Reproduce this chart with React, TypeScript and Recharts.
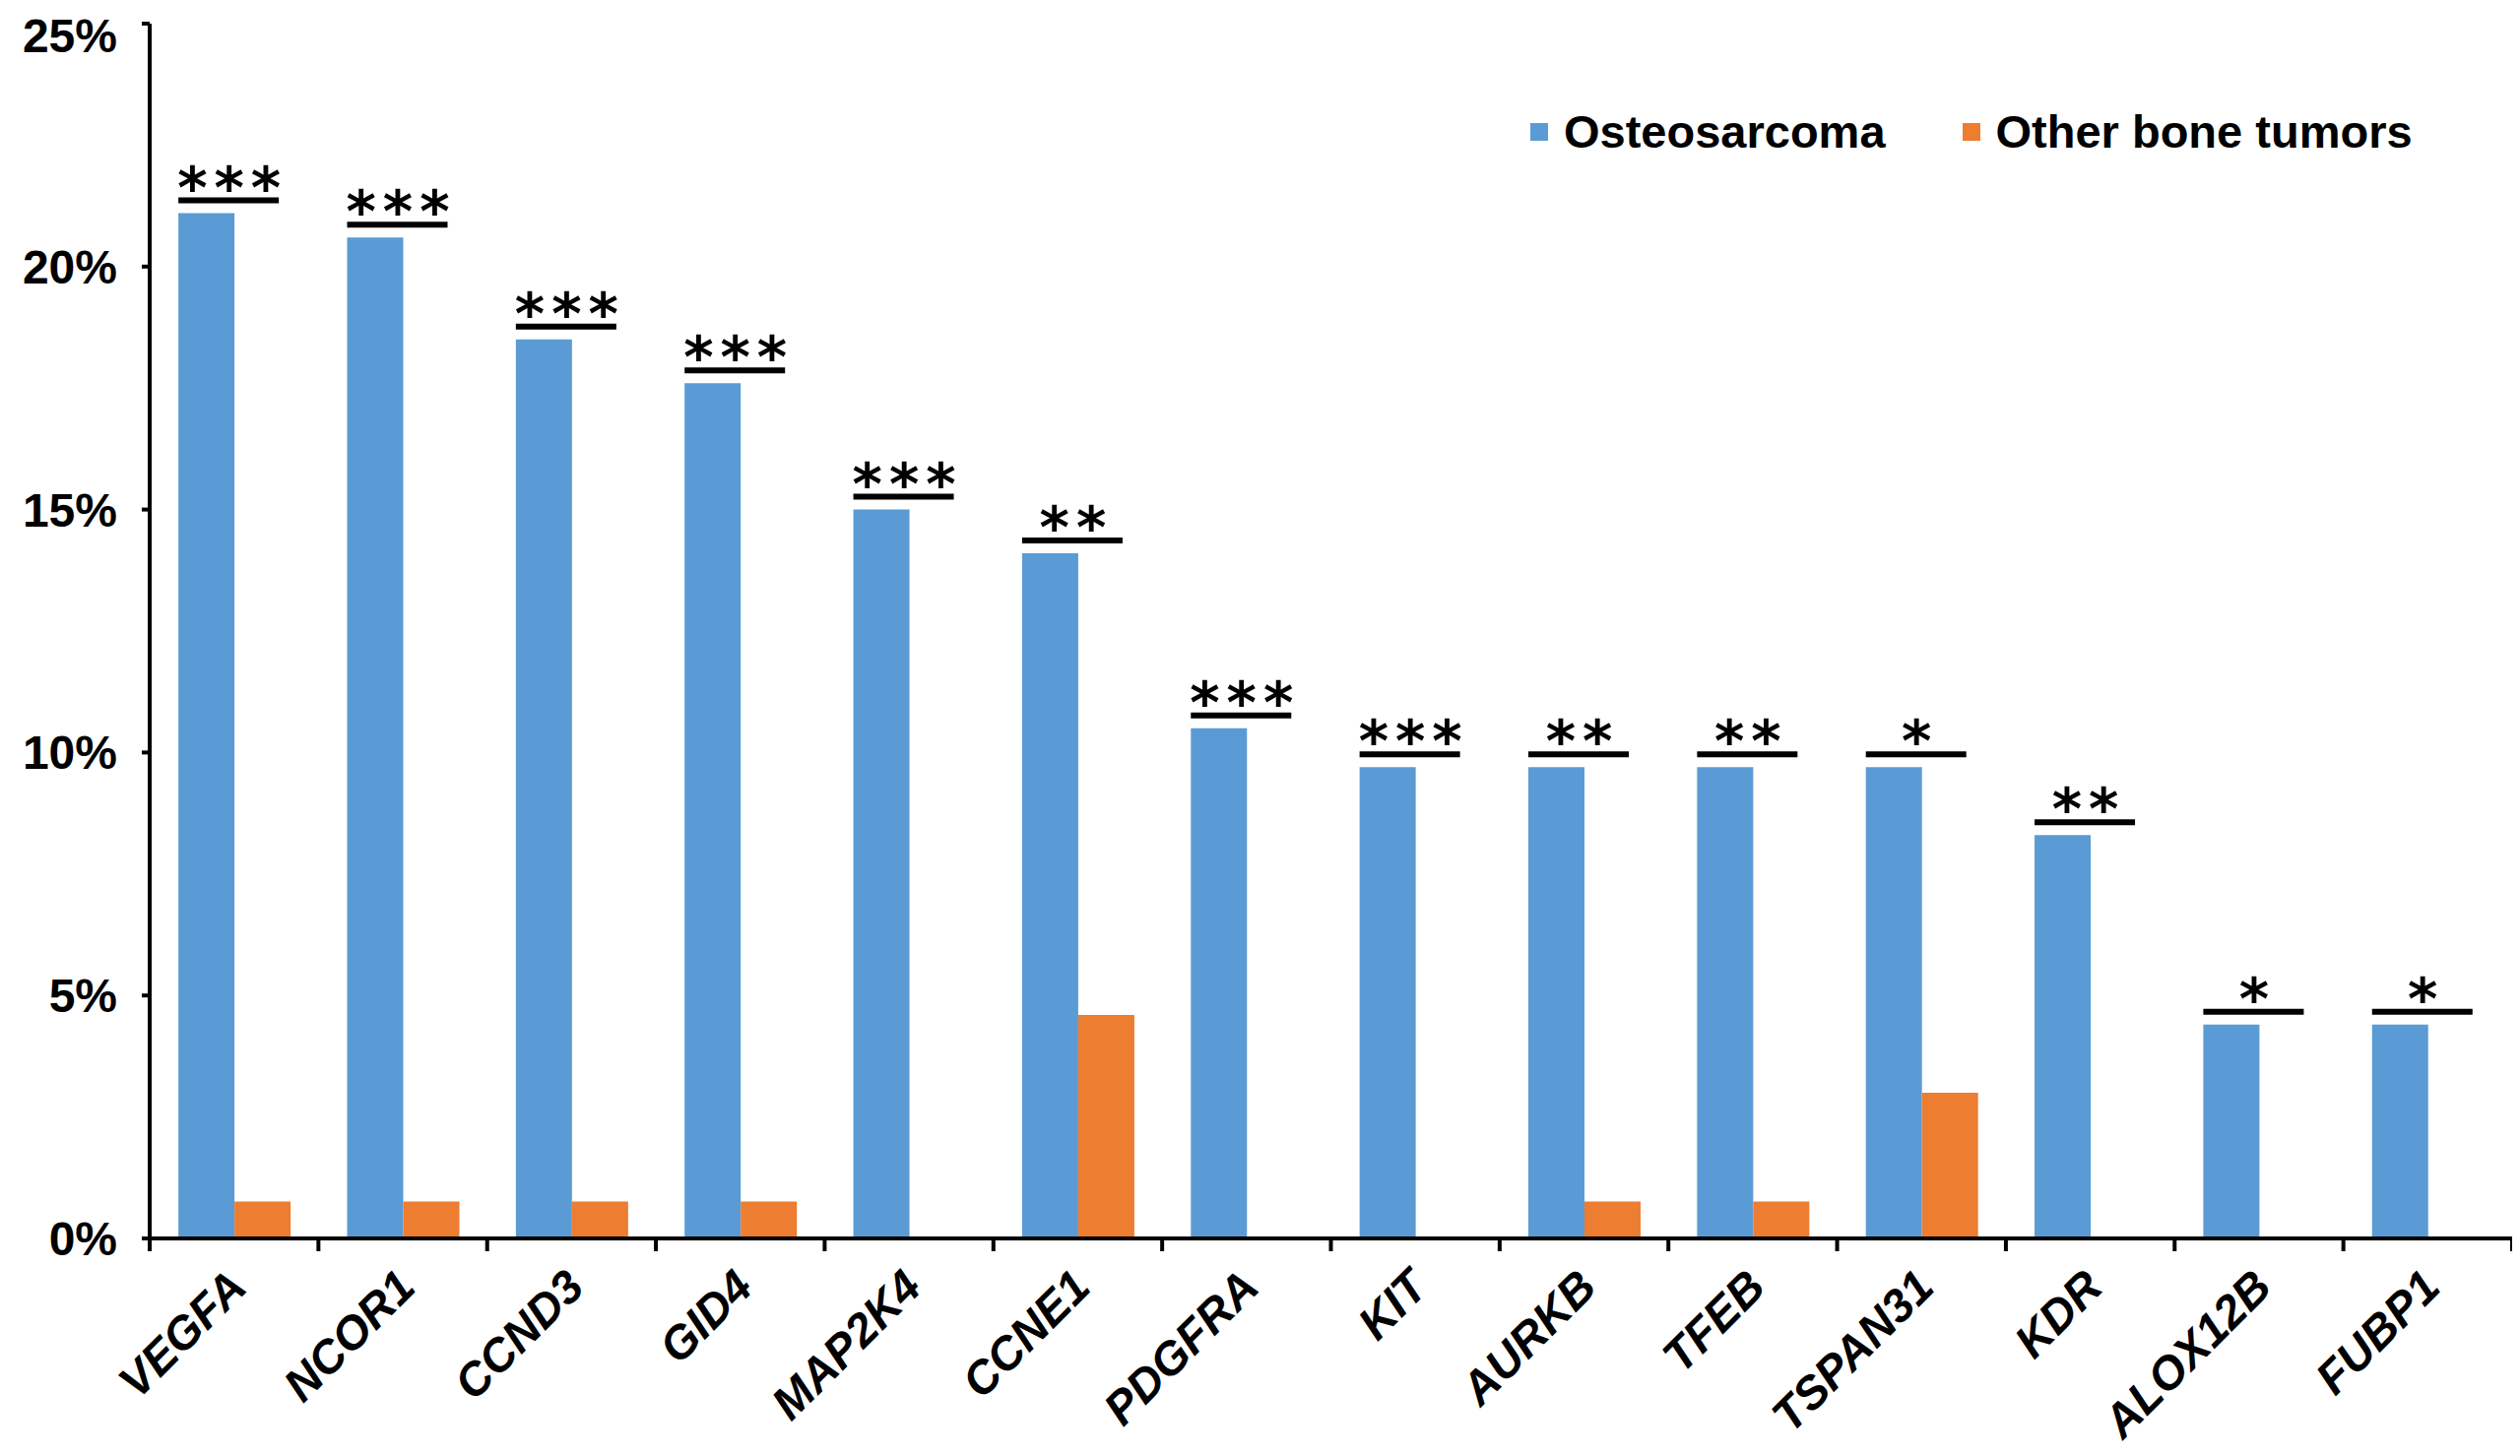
import { Bar, BarChart, LabelList, Legend, XAxis, YAxis } from "recharts";

const GENES = [
  "VEGFA",
  "NCOR1",
  "CCND3",
  "GID4",
  "MAP2K4",
  "CCNE1",
  "PDGFRA",
  "KIT",
  "AURKB",
  "TFEB",
  "TSPAN31",
  "KDR",
  "ALOX12B",
  "FUBP1",
];
const OSTEOSARCOMA = [21.1, 20.6, 18.5, 17.6, 15.0, 14.1, 10.5, 9.7, 9.7, 9.7, 9.7, 8.3, 4.4, 4.4];
const OTHER_BONE = [0.76, 0.76, 0.76, 0.76, 0, 4.6, 0, 0, 0.76, 0.76, 3.0, 0, 0, 0];
const SIGNIFICANCE = ["***", "***", "***", "***", "***", "**", "***", "***", "**", "**", "*", "**", "*", "*"];
const Y_TICKS = [0, 5, 10, 15, 20, 25];

const BLUE = "#5B9BD5";
const ORANGE = "#ED7D31";
const FONT = "'Liberation Sans', Arial, sans-serif";

const W = 2551;
const H = 1471;
const MARGIN = { top: 16, right: 8, left: 0, bottom: 0 };
const Y_AXIS_W = 144;
const X_AXIS_H = 221;
// width of one category band, needed for the between-category tick marks
const BAND = (W - MARGIN.left - MARGIN.right - Y_AXIS_W) / GENES.length;

const data = GENES.map((gene, i) => ({
  gene,
  osteo: OSTEOSARCOMA[i],
  other: OTHER_BONE[i],
  sig: SIGNIFICANCE[i],
}));

function GeneTick({ x, y, payload, index }: any) {
  const left = x - BAND / 2;
  const tx = x + 15;
  const ty = y + 52;
  return (
    <g>
      <line x1={left} y1={y} x2={left} y2={y + 13} stroke="#000" strokeWidth={4} />
      {index === GENES.length - 1 && (
        <line x1={x + BAND / 2} y1={y} x2={x + BAND / 2} y2={y + 13} stroke="#000" strokeWidth={4} />
      )}
      <text
        x={tx}
        y={ty}
        transform={`rotate(-45 ${tx} ${ty})`}
        textAnchor="end"
        fontSize={47}
        fontWeight="bold"
        fontStyle="italic"
        fontFamily={FONT}
        fill="#000"
      >
        {payload.value}
      </text>
    </g>
  );
}

function SigMark({ x, y, width, value }: any) {
  const lineY = y - 13;
  const x1 = x;
  const x2 = x + 2 * width - 12;
  return (
    <g>
      <line x1={x1} y1={lineY} x2={x2} y2={lineY} stroke="#000" strokeWidth={6} />
      <text
        x={(x1 + x2) / 2 + 4}
        y={lineY + 7}
        textAnchor="middle"
        fontSize={58}
        fontWeight="bold"
        letterSpacing={7}
        fontFamily="'DejaVu Sans', sans-serif"
        fill="#000"
      >
        {value}
      </text>
    </g>
  );
}

function LegendBox({ payload }: any) {
  return (
    <div style={{ display: "flex", alignItems: "center", fontFamily: FONT }}>
      {(payload || []).map((p: any, i: number) => (
        <div
          key={i}
          style={{ display: "flex", alignItems: "center", marginRight: i === 0 ? 78 : 0 }}
        >
          <span style={{ width: 18, height: 18, background: p.color, marginRight: 16 }} />
          <span style={{ fontSize: 47, fontWeight: "bold", lineHeight: "47px", color: "#000" }}>
            {p.value}
          </span>
        </div>
      ))}
    </div>
  );
}

export default function App() {
  return (
    <div style={{ width: W, height: H, fontFamily: FONT }}>
      <BarChart width={W} height={H} data={data} margin={MARGIN} barCategoryGap="17%" barGap={0}>
        <XAxis
          dataKey="gene"
          interval={0}
          height={X_AXIS_H}
          axisLine={{ stroke: "#000", strokeWidth: 4 }}
          tickLine={false}
          tickSize={0}
          tickMargin={0}
          tick={<GeneTick />}
        />
        <YAxis
          width={Y_AXIS_W}
          domain={[0, 25]}
          ticks={Y_TICKS}
          tickFormatter={(v) => `${v}%`}
          axisLine={{ stroke: "#000", strokeWidth: 4 }}
          tickLine={{ stroke: "#000", strokeWidth: 4 }}
          tickSize={8}
          tickMargin={25}
          tick={{ fill: "#000", fontSize: 48, fontWeight: "bold", fontFamily: FONT }}
        />
        <Legend
          layout="horizontal"
          verticalAlign="middle"
          align="center"
          content={<LegendBox />}
          wrapperStyle={{ position: "absolute", top: 102, left: 1546, right: "auto", width: "auto" }}
        />
        <Bar dataKey="osteo" name="Osteosarcoma" fill={BLUE} isAnimationActive={false}>
          <LabelList dataKey="sig" content={<SigMark />} />
        </Bar>
        <Bar dataKey="other" name="Other bone tumors" fill={ORANGE} isAnimationActive={false} />
      </BarChart>
    </div>
  );
}
